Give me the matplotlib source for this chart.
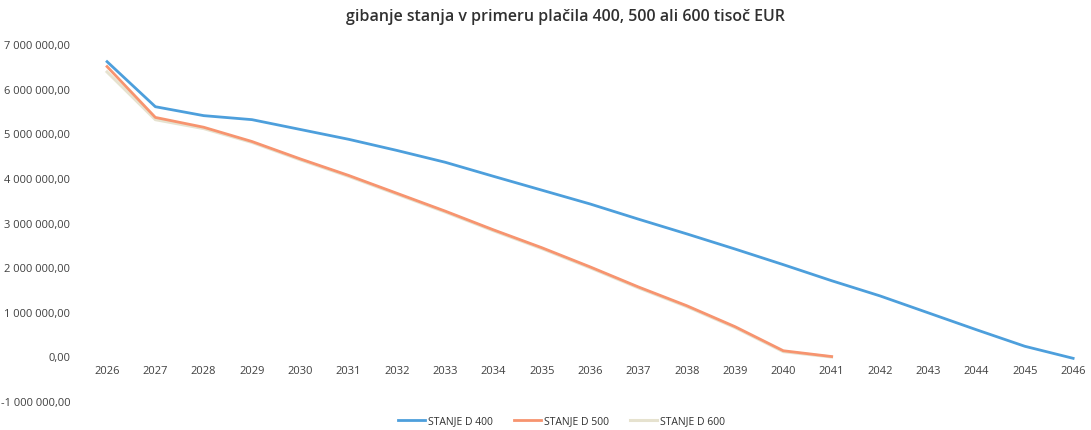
import matplotlib.pyplot as plt
from matplotlib.ticker import FuncFormatter

plt.rcParams['font.family'] = ['Open Sans', 'DejaVu Sans']

years = list(range(2026, 2047))

# stanje (EUR), odčitano s slike
stanje_400 = [6630000, 5620000, 5420000, 5330000, 5110000, 4890000, 4640000,
              4375000, 4060000, 3750000, 3440000, 3100000, 2770000, 2430000,
              2080000, 1720000, 1380000, 1000000, 620000, 250000, -20000]
stanje_500 = [6520000, 5380000, 5160000, 4840000, 4450000, 4080000, 3680000,
              3280000, 2860000, 2460000, 2030000, 1580000, 1160000, 690000,
              150000, 20000]
stanje_600 = [6400000, 5330000, 5130000, 4820000, 4430000, 4060000, 3660000,
              3260000, 2840000, 2440000, 2010000, 1560000, 1140000, 670000,
              130000, 10000]

labels = ['STANJE D 400', 'STANJE D 500', 'STANJE D 600']
colors = ['#4d9fdc', '#f7946f', '#e6e2cf']


def eur(v, pos):
    s = '{:,.2f}'.format(v).replace(',', ' ').replace('.', ',')
    return s


fig = plt.figure(figsize=(10.91, 4.30), dpi=100)
ax = fig.add_axes([0.076, 0.065, 0.924, 0.83])

ax.plot(years[:len(stanje_600)], stanje_600, color=colors[2], lw=2.2, label=labels[2], zorder=2)
ax.plot(years, stanje_400, color=colors[0], lw=2.0, label=labels[0], zorder=3)
ax.plot(years[:len(stanje_500)], stanje_500, color=colors[1], lw=2.0, label=labels[1], zorder=3)

ax.set_xlim(2025.5, 2046.37)
ax.set_ylim(-1000000, 7000000)
ax.set_yticks(range(-1000000, 7000001, 1000000))
ax.yaxis.set_major_formatter(FuncFormatter(eur))
ax.set_xticks(years)
ax.set_xticklabels([str(y) for y in years])

for s in ax.spines.values():
    s.set_visible(False)
ax.spines['bottom'].set_position(('data', 0))
ax.tick_params(axis='both', length=0, labelsize=8, colors='#404040')
ax.tick_params(axis='y', pad=9)
ax.tick_params(axis='x', pad=6)

fig.suptitle('gibanje stanja v primeru plačila 400, 500 ali 600 tisoč EUR',
             x=0.518, y=0.98, fontsize=11.5, fontweight='semibold', color='#303030')

h, l = ax.get_legend_handles_labels()
order = [1, 2, 0]
fig.legend([h[i] for i in order], [l[i] for i in order], loc='lower center',
           bbox_to_anchor=(0.515, -0.015), ncol=3, frameon=False, fontsize=7.5,
           handlelength=2.6, handletextpad=0.3, columnspacing=2.0,
           labelcolor='#303030')

fig.savefig('out.png', dpi=100)
